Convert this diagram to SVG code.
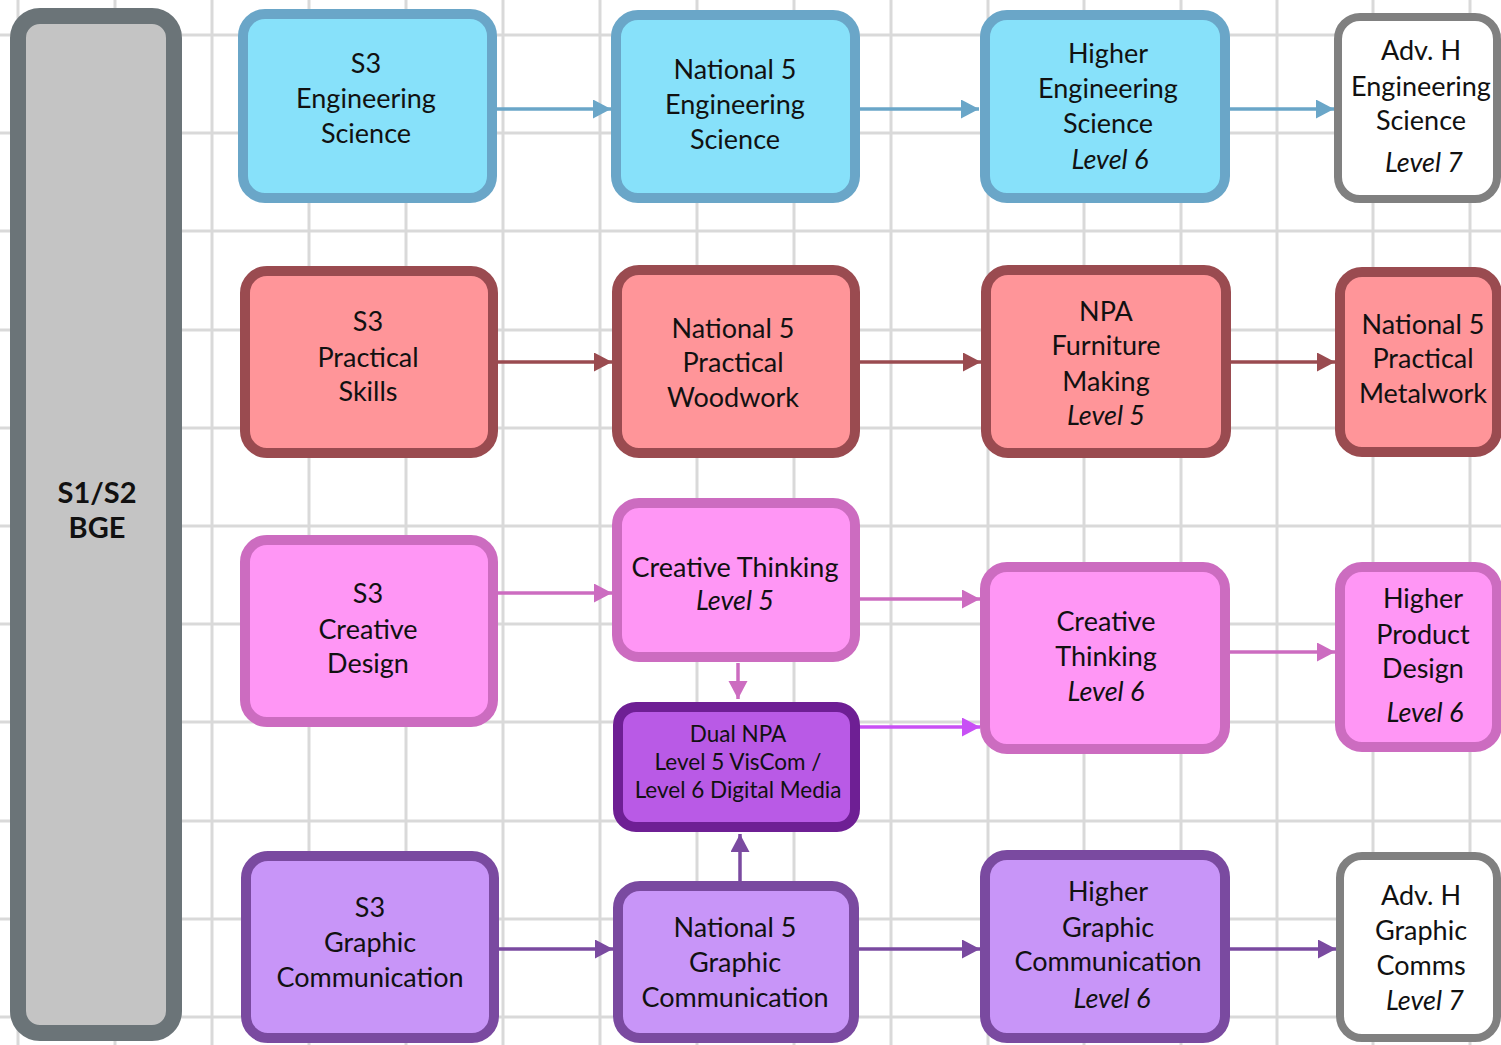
<svg xmlns="http://www.w3.org/2000/svg" width="1501" height="1045" viewBox="0 0 1501 1045">
<style>
.grid line{stroke:#d9d9d9;stroke-width:3}
.box{stroke-width:10}
.eng{fill:#87e1fa;stroke:#6aa6c8}
.red{fill:#ff9599;stroke:#9a4b50}
.pink{fill:#ff96f5;stroke:#cc6cc0}
.dual{fill:#b95ae6;stroke:#6e1f94}
.purp{fill:#c895f8;stroke:#7a4aa0}
.adv{fill:#ffffff;stroke:#808080;stroke-width:8}
text{font-family:Lato,"Noto Sans",sans-serif;font-size:27px;fill:#111;text-anchor:middle}
.it{font-style:italic}
.small{font-size:22.5px}
.bold{font-weight:bold;font-size:29px}
.conn line{stroke-width:3.5;fill:none}
</style>
<defs>
<marker id="mBlue" markerUnits="userSpaceOnUse" markerWidth="20" markerHeight="20" refX="18" refY="9.5" orient="auto"><path d="M0,0 L18,9.5 L0,19 z" fill="#6aa6c8"/></marker>
<marker id="mRed" markerUnits="userSpaceOnUse" markerWidth="20" markerHeight="20" refX="18" refY="9.5" orient="auto"><path d="M0,0 L18,9.5 L0,19 z" fill="#9a4b50"/></marker>
<marker id="mPink" markerUnits="userSpaceOnUse" markerWidth="20" markerHeight="20" refX="18" refY="9.5" orient="auto"><path d="M0,0 L18,9.5 L0,19 z" fill="#cc6cc0"/></marker>
<marker id="mMag" markerUnits="userSpaceOnUse" markerWidth="20" markerHeight="20" refX="18" refY="9.5" orient="auto"><path d="M0,0 L18,9.5 L0,19 z" fill="#c850f5"/></marker>
<marker id="mPurp" markerUnits="userSpaceOnUse" markerWidth="20" markerHeight="20" refX="18" refY="9.5" orient="auto"><path d="M0,0 L18,9.5 L0,19 z" fill="#7a4aa0"/></marker>
</defs>
<rect x="0" y="0" width="1501" height="1045" fill="#ffffff"/>
<g class="grid">
<line x1="18" y1="0" x2="18" y2="1045"/>
<line x1="115" y1="0" x2="115" y2="1045"/>
<line x1="212" y1="0" x2="212" y2="1045"/>
<line x1="309" y1="0" x2="309" y2="1045"/>
<line x1="406" y1="0" x2="406" y2="1045"/>
<line x1="503" y1="0" x2="503" y2="1045"/>
<line x1="600" y1="0" x2="600" y2="1045"/>
<line x1="697" y1="0" x2="697" y2="1045"/>
<line x1="794" y1="0" x2="794" y2="1045"/>
<line x1="891" y1="0" x2="891" y2="1045"/>
<line x1="988" y1="0" x2="988" y2="1045"/>
<line x1="1084" y1="0" x2="1084" y2="1045"/>
<line x1="1181" y1="0" x2="1181" y2="1045"/>
<line x1="1277" y1="0" x2="1277" y2="1045"/>
<line x1="1373" y1="0" x2="1373" y2="1045"/>
<line x1="1470" y1="0" x2="1470" y2="1045"/>
<line x1="0" y1="35" x2="1501" y2="35"/>
<line x1="0" y1="133" x2="1501" y2="133"/>
<line x1="0" y1="231" x2="1501" y2="231"/>
<line x1="0" y1="330" x2="1501" y2="330"/>
<line x1="0" y1="428" x2="1501" y2="428"/>
<line x1="0" y1="526" x2="1501" y2="526"/>
<line x1="0" y1="624" x2="1501" y2="624"/>
<line x1="0" y1="722" x2="1501" y2="722"/>
<line x1="0" y1="821" x2="1501" y2="821"/>
<line x1="0" y1="919" x2="1501" y2="919"/>
<line x1="0" y1="1017" x2="1501" y2="1017"/>
</g>
<g class="conn">
<line x1="497" y1="109" x2="611" y2="109" stroke="#6aa6c8" marker-end="url(#mBlue)"/>
<line x1="860" y1="109" x2="979" y2="109" stroke="#6aa6c8" marker-end="url(#mBlue)"/>
<line x1="1230" y1="109" x2="1334" y2="109" stroke="#6aa6c8" marker-end="url(#mBlue)"/>
<line x1="498" y1="362" x2="612" y2="362" stroke="#9a4b50" marker-end="url(#mRed)"/>
<line x1="860" y1="362" x2="981" y2="362" stroke="#9a4b50" marker-end="url(#mRed)"/>
<line x1="1231" y1="362" x2="1335" y2="362" stroke="#9a4b50" marker-end="url(#mRed)"/>
<line x1="498" y1="593" x2="612" y2="593" stroke="#cc6cc0" marker-end="url(#mPink)"/>
<line x1="860" y1="599" x2="980" y2="599" stroke="#cc6cc0" marker-end="url(#mPink)"/>
<line x1="738" y1="663" x2="738" y2="699" stroke="#cc6cc0" marker-end="url(#mPink)"/>
<line x1="860" y1="727" x2="980" y2="727" stroke="#c850f5" marker-end="url(#mMag)"/>
<line x1="1230" y1="652" x2="1335" y2="652" stroke="#cc6cc0" marker-end="url(#mPink)"/>
<line x1="499" y1="949" x2="613" y2="949" stroke="#7a4aa0" marker-end="url(#mPurp)"/>
<line x1="859" y1="949" x2="980" y2="949" stroke="#7a4aa0" marker-end="url(#mPurp)"/>
<line x1="1230" y1="949" x2="1336" y2="949" stroke="#7a4aa0" marker-end="url(#mPurp)"/>
<line x1="740" y1="881" x2="740" y2="834" stroke="#7a4aa0" marker-end="url(#mPurp)"/>
</g>
<g id="bge">
<rect x="18" y="16" width="156" height="1017" rx="22" fill="#c4c4c4" stroke="#6b7478" stroke-width="16"/>
<text class="bold" x="97" y="503">S1/S2</text>
<text class="bold" x="97" y="538">BGE</text>
</g>
<g id="s3-eng">
<rect class="box eng" x="243" y="14" width="249" height="184" rx="22"/>
<text x="366" y="73">S3</text>
<text x="366" y="108">Engineering</text>
<text x="366" y="143">Science</text>
</g>
<g id="n5-eng">
<rect class="box eng" x="616" y="15" width="239" height="183" rx="22"/>
<text x="735" y="79">National 5</text>
<text x="735" y="114">Engineering</text>
<text x="735" y="149">Science</text>
</g>
<g id="h-eng">
<rect class="box eng" x="985" y="15" width="240" height="183" rx="22"/>
<text x="1108" y="63">Higher</text>
<text x="1108" y="98">Engineering</text>
<text x="1108" y="133">Science</text>
<text class="it" x="1110" y="169">Level 6</text>
</g>
<g id="ah-eng">
<rect class="adv" x="1338" y="17" width="159" height="182" rx="22"/>
<text x="1421" y="60">Adv. H</text>
<text x="1421" y="96">Engineering</text>
<text x="1421" y="130">Science</text>
<text class="it" x="1424" y="172">Level 7</text>
</g>
<g id="s3-prac">
<rect class="box red" x="245" y="271" width="248" height="182" rx="22"/>
<text x="368" y="331">S3</text>
<text x="368" y="367">Practical</text>
<text x="368" y="401">Skills</text>
</g>
<g id="n5-wood">
<rect class="box red" x="617" y="270" width="238" height="183" rx="22"/>
<text x="733" y="338">National 5</text>
<text x="733" y="372">Practical</text>
<text x="733" y="407">Woodwork</text>
</g>
<g id="npa-furn">
<rect class="box red" x="986" y="270" width="240" height="183" rx="22"/>
<text x="1106" y="321">NPA</text>
<text x="1106" y="355">Furniture</text>
<text x="1106" y="391">Making</text>
<text class="it" x="1106" y="425">Level 5</text>
</g>
<g id="n5-metal">
<rect class="box red" x="1340" y="272" width="157" height="180" rx="22"/>
<text x="1423" y="334">National 5</text>
<text x="1423" y="368">Practical</text>
<text x="1423" y="403">Metalwork</text>
</g>
<g id="s3-cd">
<rect class="box pink" x="245" y="540" width="248" height="182" rx="22"/>
<text x="368" y="603">S3</text>
<text x="368" y="639">Creative</text>
<text x="368" y="673">Design</text>
</g>
<g id="ct5">
<rect class="box pink" x="617" y="503" width="238" height="154" rx="22"/>
<text x="735" y="577">Creative Thinking</text>
<text class="it" x="735" y="610">Level 5</text>
</g>
<g id="dual">
<rect class="box dual" x="618" y="707" width="237" height="120" rx="18"/>
<text class="small" x="738" y="742">Dual NPA</text>
<text class="small" x="738" y="770">Level 5 VisCom /</text>
<text class="small" x="738" y="798">Level 6 Digital Media</text>
</g>
<g id="ct6">
<rect class="box pink" x="985" y="567" width="240" height="182" rx="22"/>
<text x="1106" y="631">Creative</text>
<text x="1106" y="666">Thinking</text>
<text class="it" x="1106" y="701">Level 6</text>
</g>
<g id="h-pd">
<rect class="box pink" x="1340" y="567" width="157" height="180" rx="22"/>
<text x="1423" y="608">Higher</text>
<text x="1423" y="644">Product</text>
<text x="1423" y="678">Design</text>
<text class="it" x="1425" y="722">Level 6</text>
</g>
<g id="s3-gc">
<rect class="box purp" x="246" y="856" width="248" height="182" rx="22"/>
<text x="370" y="917">S3</text>
<text x="370" y="952">Graphic</text>
<text x="370" y="987">Communication</text>
</g>
<g id="n5-gc">
<rect class="box purp" x="618" y="886" width="236" height="152" rx="22"/>
<text x="735" y="937">National 5</text>
<text x="735" y="972">Graphic</text>
<text x="735" y="1007">Communication</text>
</g>
<g id="h-gc">
<rect class="box purp" x="985" y="855" width="240" height="183" rx="22"/>
<text x="1108" y="901">Higher</text>
<text x="1108" y="937">Graphic</text>
<text x="1108" y="971">Communication</text>
<text class="it" x="1112" y="1008">Level 6</text>
</g>
<g id="ah-gc">
<rect class="adv" x="1340" y="856" width="157" height="182" rx="22"/>
<text x="1421" y="905">Adv. H</text>
<text x="1421" y="940">Graphic</text>
<text x="1421" y="975">Comms</text>
<text class="it" x="1425" y="1010">Level 7</text>
</g>
</svg>
